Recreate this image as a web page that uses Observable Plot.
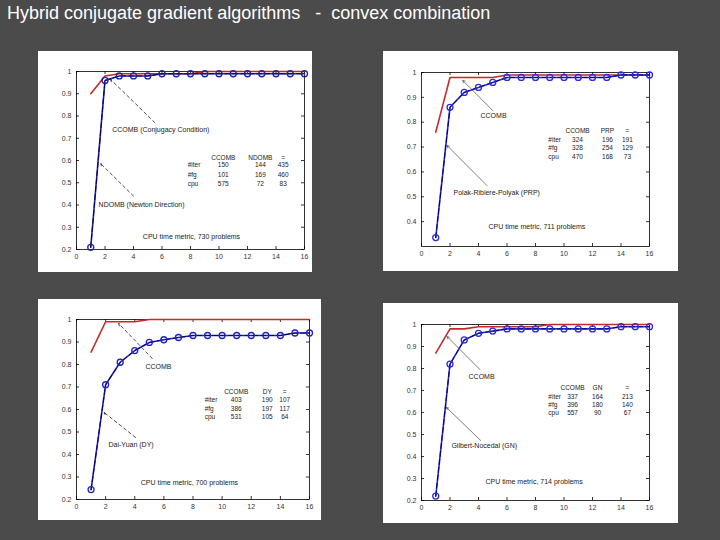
<!DOCTYPE html>
<html><head><meta charset="utf-8">
<script src="https://cdn.jsdelivr.net/npm/d3@7"></script>
<script src="https://cdn.jsdelivr.net/npm/@observablehq/plot@0.6"></script>
<style>
html,body{margin:0;padding:0;background:#4b4b4b;width:720px;height:540px;overflow:hidden;font-family:"Liberation Sans",Arial,sans-serif;}
#title{position:absolute;left:7px;top:3px;color:#fff;font-size:18px;white-space:pre;}
.panel{position:absolute;background:#fff;}
.panel svg{display:block;}
</style></head><body>
<div id="title">Hybrid conjugate gradient algorithms   -  convex combination</div>
<div id="p1" class="panel"></div>
<div id="p2" class="panel"></div>
<div id="p3" class="panel"></div>
<div id="p4" class="panel"></div>
<script>
// ---------- data ----------
const xs = [1,2,3,4,5,6,7,8,9,10,11,12,13,14,15,16];
const xTicks = [0,2,4,6,8,10,12,14,16];
const yTicksA = [0.2,0.3,0.4,0.5,0.6,0.7,0.8,0.9,1];
const yTicksB = [0.4,0.5,0.6,0.7,0.8,0.9,1];
const rowLabels = ["#iter","#fg","cpu"];

// Panel 1: CCOMB vs NDOMB
const p1Red  = [0.90,0.98,0.99,0.99,0.99,0.99,0.99,0.99,1,1,1,1,1,1,1,1];
const p1Blue = [0.21,0.96,0.98,0.98,0.98,0.99,0.99,0.99,0.99,0.99,0.99,0.99,0.99,0.99,0.99,0.99];
const p1Head = ["CCOMB","NDOMB","="];
const p1Vals = [[150,144,435],[101,169,460],[575,72,83]];
const p1Caption = "CPU time metric, 730 problems";
const p1Labels = ["CCOMB (Conjugacy Condition)","NDOMB (Newton Direction)"];

// Panel 2: CCOMB vs PRP
const p2Red  = [0.76,0.98,0.98,0.98,0.98,0.99,0.99,0.99,0.99,0.99,0.99,0.99,0.99,0.99,0.99,0.99];
const p2Blue = [0.336,0.86,0.92,0.94,0.96,0.98,0.98,0.98,0.98,0.98,0.98,0.98,0.98,0.99,0.99,0.99];
const p2Head = ["CCOMB","PRP","="];
const p2Vals = [[324,196,191],[328,254,129],[470,168,73]];
const p2Caption = "CPU time metric, 711 problems";
const p2Labels = ["CCOMB","Polak-Ribiere-Polyak (PRP)"];

// Panel 3: CCOMB vs DY
const p3Red  = [0.855,0.99,0.99,0.99,1,1,1,1,1,1,1,1,1,1,1,1];
const p3Blue = [0.244,0.71,0.81,0.862,0.898,0.91,0.92,0.929,0.929,0.929,0.929,0.929,0.929,0.929,0.94,0.94];
const p3Head = ["CCOMB","DY","="];
const p3Vals = [[403,190,107],[386,197,117],[531,105,64]];
const p3Caption = "CPU time metric, 700 problems";
const p3Labels = ["CCOMB","Dai-Yuan (DY)"];

// Panel 4: CCOMB vs GN
const p4Red  = [0.87,0.98,0.98,0.99,0.99,0.99,0.99,0.99,1,1,1,1,1,1,1,1];
const p4Blue = [0.22,0.82,0.93,0.96,0.97,0.98,0.98,0.98,0.98,0.98,0.98,0.98,0.98,0.99,0.99,0.99];
const p4Head = ["CCOMB","GN","="];
const p4Vals = [[337,164,213],[396,180,140],[557,90,67]];
const p4Caption = "CPU time metric, 714 problems";
const p4Labels = ["CCOMB","Gilbert-Nocedal (GN)"];

// ---------- layout (annotation anchors in data units) ----------
const panels = [
  {id:"p1", left:38, top:51, width:274, height:221, m:[20,8,23,38], yDomain:[0.2,1], yTicks:yTicksA,
   red:p1Red, blue:p1Blue, blueCol:"#22229a", head:p1Head, vals:p1Vals, caption:p1Caption, labels:p1Labels,
   labelPos:[[2.5,0.74],[1.55,0.40]], arrows:[[5.5,0.77,2.4,0.964],[4.0,0.44,1.7,0.586]], dash:"3,3",
   tabX:7.8, cols:[10.3,12.9,14.5], headY:0.613, rowsY:[0.578,0.537,0.497], capPos:[8.07,0.258]},
  {id:"p2", left:383, top:51, width:295, height:220, m:[21,29,25,38], yDomain:[0.3,1], yTicks:yTicksB,
   red:p2Red, blue:p2Blue, blueCol:"#2b2bd6", head:p2Head, vals:p2Vals, caption:p2Caption, labels:p2Labels,
   labelPos:[[4.14,0.827],[2.25,0.517]], arrows:[[5.0,0.847,2.9,0.968],[4.6,0.545,1.8,0.706]], dash:null,
   tabX:8.9, cols:[10.95,13.05,14.45], headY:0.767, rowsY:[0.73,0.698,0.662], capPos:[8.1,0.38]},
  {id:"p3", left:38, top:299, width:283, height:221, m:[20,12,21,38], yDomain:[0.2,1], yTicks:yTicksA,
   red:p3Red, blue:p3Blue, blueCol:"#2424b8", head:p3Head, vals:p3Vals, caption:p3Caption, labels:p3Labels,
   labelPos:[[4.73,0.79],[2.2,0.444]], arrows:[[5.2,0.827,2.9,0.982],[4.05,0.476,1.9,0.587]], dash:"3,3",
   tabX:8.8, cols:[10.97,13.1,14.3], headY:0.68, rowsY:[0.644,0.604,0.569], capPos:[7.75,0.276]},
  {id:"p4", left:383, top:303, width:295, height:220, m:[21,29,23,38], yDomain:[0.2,1], yTicks:yTicksA,
   red:p4Red, blue:p4Blue, blueCol:"#2b2bd6", head:p4Head, vals:p4Vals, caption:p4Caption, labels:p4Labels,
   labelPos:[[3.3,0.764],[2.1,0.45]], arrows:[[4.1,0.795,1.8,0.945],[4.15,0.473,1.75,0.623]], dash:null,
   tabX:8.9, cols:[10.6,12.35,14.45], headY:0.714, rowsY:[0.673,0.636,0.6], capPos:[7.9,0.286]}
];

const FONT = "'Liberation Sans', Arial, Helvetica, sans-serif";

for (const p of panels) {
  const el = document.getElementById(p.id);
  Object.assign(el.style, {left:p.left+"px", top:p.top+"px", width:p.width+"px", height:p.height+"px"});
  const [mt, mr, mb, ml] = p.m;
  const iw = p.width - ml - mr, ih = p.height - mt - mb;
  const [y0, y1] = p.yDomain;
  const tkY = 3 / ih * (y1 - y0);
  const tkX = 3 / iw * 16;
  const data = xs.map((x, i) => ({x, r: p.red[i], b: p.blue[i]}));
  const labelData = p.labels.map((t, i) => ({x: p.labelPos[i][0], y: p.labelPos[i][1], text: t}));
  const arrowData = p.arrows.map(a => ({x1:a[0], y1:a[1], x2:a[2], y2:a[3]}));
  const tableText = [];
  p.head.forEach((h, j) => tableText.push({x: p.cols[j], y: p.headY, text: h}));
  p.vals.forEach((row, i) => row.forEach((v, j) => tableText.push({x: p.cols[j], y: p.rowsY[i], text: String(v)})));
  const rowText = rowLabels.map((t, i) => ({x: p.tabX, y: p.rowsY[i], text: t}));

  const chart = Plot.plot({
    width: p.width, height: p.height,
    marginTop: mt, marginRight: mr, marginBottom: mb, marginLeft: ml,
    style: {background: "white", fontFamily: FONT, fontSize: "7px", color: "#333"},
    x: {domain: [0, 16], ticks: xTicks, tickSize: 0, tickPadding: 5, tickFormat: d => String(d), label: null},
    y: {domain: p.yDomain, ticks: p.yTicks, tickSize: 0, tickPadding: 5, tickFormat: d => String(d), label: null},
    marks: [
      Plot.frame({stroke: "#000", strokeWidth: 0.8}),
      Plot.ruleY(p.yTicks, {y: d => d, x1: 0, x2: tkX, stroke: "#000", strokeWidth: 0.8}),
      Plot.ruleY(p.yTicks, {y: d => d, x1: 16 - tkX, x2: 16, stroke: "#000", strokeWidth: 0.8}),
      Plot.ruleX(xTicks, {x: d => d, y1: y0, y2: y0 + tkY, stroke: "#000", strokeWidth: 0.8}),
      Plot.ruleX(xTicks, {x: d => d, y1: y1 - tkY, y2: y1, stroke: "#000", strokeWidth: 0.8}),
      Plot.line(data, {x: "x", y: "r", stroke: "#c42a2a", strokeWidth: 1.6}),
      Plot.line(data, {x: "x", y: "b", stroke: p.blueCol, strokeWidth: 1.6}),
      Plot.line(data, {x: "x", y: "b", stroke: "#00006a", strokeWidth: 1, strokeDasharray: "5,3"}),
      Plot.dot(data, {x: "x", y: "b", r: 3, stroke: p.blueCol, fill: "none", strokeWidth: 1.3}),
      Plot.arrow(arrowData, {x1: "x1", y1: "y1", x2: "x2", y2: "y2", stroke: p.dash ? "#000" : "#444",
        strokeWidth: 0.7, headLength: 5, strokeDasharray: p.dash || undefined}),
      Plot.text(labelData, {x: "x", y: "y", text: "text", textAnchor: "start", fill: "#222", fontSize: 7}),
      Plot.text(tableText, {x: "x", y: "y", text: "text", textAnchor: "middle", fill: "#222", fontSize: 6.5}),
      Plot.text(rowText, {x: "x", y: "y", text: "text", textAnchor: "start", fill: "#222", fontSize: 6.5}),
      Plot.text([p.caption], {x: p.capPos[0], y: p.capPos[1], text: d => d, textAnchor: "middle", fill: "#222", fontSize: 7})
    ]
  });
  el.appendChild(chart);
}
</script>
</body></html>
